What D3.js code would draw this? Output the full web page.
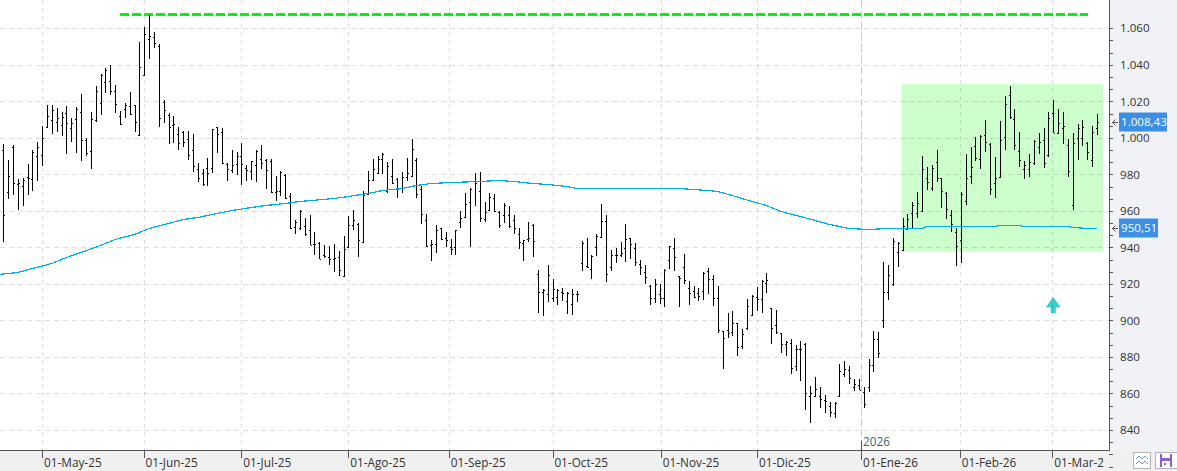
<!DOCTYPE html>
<html>
<head>
<meta charset="utf-8">
<script src="https://cdn.jsdelivr.net/npm/d3@7/dist/d3.min.js"></script>
<style>
  html, body { margin: 0; padding: 0; background: #fff; overflow: hidden; }
  svg { display: block; font-family: "Open Sans", "Noto Sans", sans-serif; }
</style>
</head>
<body>
<svg id="chart" width="1177" height="471"></svg>
<script>
// Daily OHLC bars, one entry per trading session
const opens = [
  993.2,970.2,995,974.5,973.5,978.6,977.3,989.9,990.4,1006.1,1009.6,1008.5,1007,1013.4,1005.6,1010.3,1014,998.6,992.6,1009.6,
  1019.1,1030.4,1031.1,1025.8,1012.2,1015.8,1017.3,1017.8,1001.7,1034.2,1054,1055.1,1050.3,1019.6,1012.5,1007,1001.9,1003,999.2,993.4,
  982.9,980.6,983.3,983.3,1005.8,1003,985.9,982.4,985.7,990.1,983.3,981.9,985,988.2,987.9,987.3,970.3,970.9,979.7,968.2,
  951,950.6,951.5,949.3,942,942.2,935.7,935,933.7,935,924.4,940.1,952.4,953,943.1,969.1,977.1,980.8,988.3,970.7,
  978.9,977.7,972.4,978.6,978.9,988.1,972,954.8,941.4,941.6,950.6,944.9,940,940,953.7,956.8,964.7,976.2,971.1,955.3,
  960.3,967.2,959.2,957.5,957.5,954.8,947.6,942.5,944.5,952.4,925.3,915.6,914.7,912.5,912.9,915.6,910.7,909,914.5,931.4,
  929.8,928.3,940.4,945.7,954.5,929.2,935.8,935.8,939.8,945,939.8,930.9,926.7,919,912.2,914.4,912.2,933.1,939.7,924.3,
  929.2,917.9,916.3,915.2,916.3,927,922.7,912.2,894.1,894.7,893.6,898.5,885.9,895.8,902.9,912.6,911.7,920.5,906.7,897.4,
  892.9,887.2,887.9,874.9,884.1,887,858.8,858.8,858.8,856.6,853,849.3,858.6,870.5,872.7,863.8,864.5,861,863.8,875.8,
  889.7,900.5,915.5,920.2,937.6,938.8,950,959.1,959,959.7,978,972.5,986.7,977.8,969.7,957.9,948.7,944.3,965.4,979.1,
  995.3,988.4,1001.6,996.6,975.2,978.3,1000.5,1023.5,1010.3,992.8,982.9,982.7,986.4,995,998.6,990.6,1013.6,1002.6,1005.2,996.1,
  963.2,999.9,999.7,997.2,987.7,1005.2
];
const highs = [
  996.6,987.9,996.1,977.5,978.2,985.7,993.4,997.5,1006.5,1018,1017.8,1016.4,1014,1017.4,1010.9,1016.9,1024,999.7,1014.2,1028.4,
  1035,1038.1,1039.9,1028.9,1014.7,1018.9,1025.1,1018,1052.5,1060.7,1067.3,1058,1051.4,1020.7,1013.6,1012,1005.9,1003.8,1003.8,1002.1,
  986.2,982.9,989,1004.9,1005.9,1005.4,986.2,993.4,992.3,997.2,985.1,987.3,993.4,996.1,988.4,988.4,979.1,981.9,980.2,969.8,
  955,960.3,955.9,957.5,948.7,942.7,941.1,940.5,941.6,937.8,946,957,960.3,953.1,970.7,981.7,988.3,989.9,991.6,986.6,
  988.3,977.8,981.1,988.8,999.3,988.8,973.5,958.1,943.8,952,950.9,948.7,944.4,949.8,959.7,969.6,972.4,980.6,981.1,964.7,
  969.6,969.4,959.7,964.1,962.5,957.5,950.9,943.8,953.7,952.6,927.9,917.3,930.6,922.9,917.4,917.8,915.8,917.4,916.2,943.7,
  945.1,935.8,947.3,963.8,957.9,938.6,939.8,942.9,953,945.1,942.6,933.3,930.5,919.2,922.7,920.1,928.1,940.8,945.3,924.3,
  936.5,921.7,919,917.9,926.7,928.7,925,919,894.1,904.2,905.3,898.7,895.4,911.9,914.1,918.4,922.3,926.1,906.9,905.8,
  893.2,888.8,889.7,886.4,888.6,887.5,863.9,868.9,863.4,859,855.2,855.2,876,877.7,874.9,867.8,867.8,863.4,878.7,894.1,
  893.6,931.9,930.3,945.1,942.9,956,958.2,964.6,970.3,990,984,985.1,993.3,978,970.1,960.4,950.9,970.1,991.1,995,
  1000.5,1001.6,1009.8,997.2,989.5,1009,1022.9,1028.4,1015.8,1003.2,987.3,991.1,998.8,1002.6,1005.4,1014.2,1020.7,1015.8,1014.2,999.4,
  1002.6,1007.6,1009.8,997.7,1006.5,1013.1
];
const lows = [
  943.2,966.7,968.7,960.5,962.7,968.7,970.9,976.4,984.8,1005.6,1002.1,1003.2,1001.2,991.2,997.7,991.9,987.3,990.1,982.9,1008.7,
  1012.5,1024.4,1023.5,1013.6,1007,1011.1,1012.5,1003.2,1001.6,1033.9,1043.2,1049.2,1005.9,1008.3,996.6,997.2,993.4,995,987.9,981.3,
  975.8,973.6,973.6,980.6,991.7,985.7,976.4,980.8,979.7,974.2,976.4,976.9,975.8,982.9,972,969.8,965.4,968.2,966.5,950.1,
  947.3,949.3,946,941.1,935.6,933.4,934.3,930.1,926.8,924.6,924.2,940,949.3,935,942.2,968.5,976.7,980.6,980.4,969.8,
  974.6,966.9,969.6,976.2,978.4,966.9,952.6,940,932.8,936.7,943.8,940,936.1,936.1,950.4,956.4,940,962.5,953.7,953.7,
  959.7,959.4,950.6,953.1,950.9,947.1,938.9,932.8,942.7,935,904.3,902.6,910.3,910.3,908.7,910.9,903.7,903.2,910.3,926.9,
  928.7,922.5,935.4,945,920.8,927.2,931.2,934.5,931.8,933.8,929.6,924.7,919.7,908.6,909.7,908.9,907.5,928.3,927.2,907.5,
  920.1,908.6,912.4,910.8,911.3,914.6,908,893.2,873.5,890.5,891.6,880.6,884.4,894.9,902.5,905.3,904.2,915.2,887.2,892.7,
  882.2,880.6,870.5,872.2,866.7,850.8,843.6,857.9,851.9,849.1,846.9,846.4,858.5,868.9,865,861.2,861.7,851.9,860.6,871.6,
  879.3,895.8,911.1,918.8,929.2,938.5,949.4,950.5,956,959.3,971.4,970.8,976,961.5,955.5,948.3,929.7,931.3,963.5,974.7,
  987.3,982.9,992.2,968.6,967,978,993.3,1010.3,993.3,984,977.4,978.3,985.1,991.1,983.5,989.5,1002.5,1002.1,996.6,978.5,
  960.4,987.8,995.5,987.8,984,1001.6
];
const closes = [
  957.6,978.9,975.3,975.3,977.1,978.2,992.5,995,999.9,1011.8,1015.3,1010.9,1011.4,1008,1008.1,1015.8,998.6,991.5,1010.3,1025.7,
  1034.6,1037.3,1025.8,1018.5,1007.8,1018,1013.3,1008.7,1038.6,1056.9,1055.8,1051.8,1010.9,1015.1,1005.9,1007.6,997.2,997.7,990.6,984.6,
  977.8,974.5,980.8,1004.7,1002.1,986.4,982.9,985.1,990.1,985.7,982.4,987.3,992.8,986.2,982.4,970.5,970.9,981.3,967.2,950.8,
  954.1,959.9,947.5,941.2,941.6,933.9,935.2,933.7,934.1,927.7,939.4,952.4,955.2,943.8,968.5,977.1,983.2,988.3,991,984.4,
  975.5,972.2,978.6,981,994.1,969.4,958.1,940.7,941.6,949.3,944.4,943.8,939.4,949.7,955.9,963.6,972,975.1,956.2,959.2,
  967.4,960.1,952,963,951.7,950.8,942.7,943.8,945.4,943.3,915.6,916.7,924.9,917.4,916.5,915.1,915.1,914.5,914.5,942.4,
  929.1,935.4,946.4,954.5,925.4,935.8,935.8,936.9,944.6,941.8,932.2,929.2,923.7,912.2,919.9,912.1,927.8,940.8,934.7,923.2,
  922.1,915.2,913,913.3,925.8,922.7,912.2,894.7,890.5,893,898.7,885.5,892.5,907.8,913.5,911.7,921.7,922.3,896,893.6,
  887,888.3,874.2,884.2,884.1,860.5,860.5,862.7,857.2,856.1,849.9,854.8,872.5,873.3,868.3,865.2,861.7,854.4,875.8,889.7,
  882.4,915.5,924.8,943.5,942.4,951.5,955.5,963.2,964.3,983.1,975.8,983.5,978,970.7,960.8,952.6,940.5,969.2,977.8,984,
  989.1,1001,997.7,971.8,978.2,998.8,1018.4,1011.4,996.1,987.8,985.3,986.6,998.3,997.9,986.2,1011.1,1002.6,1008.1,1006.5,981.8,
  997.2,1005.2,1005.9,992,1003.4,1008.43
];

// Moving average, sampled at the listed bar positions
const maBars = [
  -1,3,6,10,13,16,20,23,27,30,34,37,40,44,47,51,54,58,61,68,71,75,78,82,85,88,92,98,102,105,109,112,116,118,
  131,139,145,147,150,154,157,160,164,167,170,174,178,182,189,190,204,205,209,210,219,220,223,225
];
const maValues = [
  925.4,926.8,928.7,931.4,934.7,937.6,941.3,944.6,947.3,950.8,953.5,955.4,956.8,958.7,960.6,962,963.4,964.5,965.3,967.2,968,969.6,971.4,972.7,974.2,975.3,975.6,976.5,976.7,976.4,975.4,974.7,973.6,972.4,
  972.5,972.3,971.4,970.9,968.5,965.6,963.1,960.1,957.2,954.8,952.6,950.6,950.3,950.5,950.6,951.7,951.7,952.1,952.1,951.7,951.7,951,950.6,950.51
];

// Price axis and reference levels
const priceTicks = [840, 860, 880, 900, 920, 940, 960, 980, 1000, 1020, 1040, 1060];
const lastPrice = 1008.43;
const lastAverage = 950.51;
const resistanceLevel = 1067.7;
const resistanceBars = [24, 223.1];
const rangeBand = { bars: [184.8, 226.2], prices: [937.6, 1029.5] };
const signalArrow = { bar: 216, price: 908.5 };

// Calendar axis
const monthLabels = ["01-May-25", "01-Jun-25", "01-Jul-25", "01-Ago-25", "01-Sep-25", "01-Oct-25", "01-Nov-25", "01-Dic-25", "01-Ene-26", "01-Feb-26", "01-Mar-26"];
const monthBars = [8, 28.9, 49, 71, 91.7, 113, 135.3, 155.1, 176.47, 196.8, 215.84];
const yearLabel = "2026";
const yearBar = 176.47;

const W = 1177, H = 471, plotRight = 1109, plotBottom = 450, priceLabelSize = 11.6, dateLabelSize = 11.8;

const x = d3.scaleLinear().domain([0, opens.length - 1]).range([3.3, 1097]);
const y = d3.scaleLinear().domain([840, 1060]).range([430, 28.3]);
const px = v => Math.round(v) + 0.5;

const esLocale = d3.formatLocale({ decimal: ",", thousands: ".", grouping: [3], currency: ["", "€"] });
const fmtTick = esLocale.format(",.0f");
const fmtPrice = esLocale.format(",.2f");

const svg = d3.select("#chart");
const defs = svg.append("defs");
defs.append("clipPath").attr("id", "plot-clip").append("rect")
  .attr("width", plotRight).attr("height", plotBottom);
defs.append("clipPath").attr("id", "date-clip").append("rect")
  .attr("y", plotBottom).attr("width", 1103.5).attr("height", H - plotBottom);

// Panels
svg.append("rect").attr("width", W).attr("height", H).attr("fill", "#ffffff");
svg.append("rect").attr("x", plotRight).attr("width", W - plotRight).attr("height", plotBottom).attr("fill", "#f1f2f6");
svg.append("rect").attr("y", plotBottom).attr("width", W).attr("height", H - plotBottom).attr("fill", "#f0f0f0");

const plot = svg.append("g").attr("clip-path", "url(#plot-clip)");

// Highlighted range behind the grid
plot.append("rect")
  .attr("x", x(rangeBand.bars[0])).attr("width", x(rangeBand.bars[1]) - x(rangeBand.bars[0]))
  .attr("y", y(rangeBand.prices[1])).attr("height", y(rangeBand.prices[0]) - y(rangeBand.prices[1]))
  .attr("fill", "#ccffcc");

// Buy signal marker
const ax = x(signalArrow.bar), ay = y(signalArrow.price);
plot.append("path")
  .attr("transform", `translate(${ax},${ay})`)
  .attr("d", "M0,-8L7.5,2.5L2.5,2.5L2.5,8L-2.5,8L-2.5,2.5L-7.5,2.5Z")
  .attr("fill", "#33cfcf");

// Grid
const grid = plot.append("g").attr("shape-rendering", "crispEdges").attr("fill", "none");
grid.selectAll("line.h").data(priceTicks).join("line").attr("class", "h")
  .attr("x1", 0).attr("x2", plotRight).attr("y1", d => px(y(d))).attr("y2", d => px(y(d)))
  .attr("stroke", "rgba(0,0,0,0.13)").attr("stroke-dasharray", "5,4");
grid.selectAll("line.v").data(monthBars).join("line").attr("class", "v")
  .attr("x1", d => px(x(d))).attr("x2", d => px(x(d))).attr("y1", 0).attr("y2", plotBottom)
  .attr("stroke", d => d === yearBar ? "rgba(0,0,0,0.2)" : "rgba(0,0,0,0.13)")
  .attr("stroke-dasharray", d => d === yearBar ? "8,3" : "4,4");

// Resistance level
plot.append("line")
  .attr("x1", x(resistanceBars[0])).attr("x2", x(resistanceBars[1]))
  .attr("y1", px(y(resistanceLevel))).attr("y2", px(y(resistanceLevel)))
  .attr("stroke", "#00f414").attr("stroke-width", 3).attr("stroke-dasharray", "9,3")
  .attr("shape-rendering", "crispEdges");

// OHLC bars: open tick to the left of the stem, close tick to the right
const bars = plot.append("g").attr("stroke", "#000").attr("shape-rendering", "crispEdges");
const bar = bars.selectAll("g").data(opens.map((_, i) => i)).join("g");
bar.append("line")
  .attr("x1", i => px(x(i))).attr("x2", i => px(x(i)))
  .attr("y1", i => y(highs[i])).attr("y2", i => y(lows[i]));
bar.append("line")
  .attr("x1", i => px(x(i)) - 1.5).attr("x2", i => px(x(i)))
  .attr("y1", i => px(y(opens[i]))).attr("y2", i => px(y(opens[i])));
bar.append("line")
  .attr("x1", i => px(x(i))).attr("x2", i => px(x(i)) + 1.5)
  .attr("y1", i => px(y(closes[i]))).attr("y2", i => px(y(closes[i])));

// Moving average
plot.append("path")
  .attr("d", d3.line().x(d => x(d[0])).y(d => px(y(d[1])))(maBars.map((b, i) => [b, maValues[i]])))
  .attr("fill", "none").attr("stroke", "#00aeef").attr("stroke-width", 1.2)
  .attr("shape-rendering", "crispEdges");

// Price axis with three subdivisions per label step
const minorTicks = d3.range(0, 37).map(k => 820 + k * 20 / 3);
const axisY = svg.append("g").attr("transform", `translate(${plotRight},0)`)
  .attr("shape-rendering", "crispEdges")
  .call(d3.axisRight(y).tickValues(minorTicks).tickSize(4).tickFormat(""));
axisY.select(".domain").attr("stroke", "#555").attr("d", `M0.5,0V${plotBottom}`);
axisY.selectAll(".tick line").attr("stroke", "#555");

svg.append("g").selectAll("text").data(priceTicks).join("text")
  .attr("x", 1120).attr("y", d => y(d)).attr("dy", "0.36em")
  .attr("font-size", priceLabelSize).attr("fill", "#333").text(fmtTick);

// Current value tags
const tags = [
  { value: lastPrice, w: 48, label: fmtPrice(lastPrice) },
  { value: lastAverage, w: 39, label: fmtPrice(lastAverage) }
];
const tag = svg.append("g").selectAll("g").data(tags).join("g")
  .attr("transform", d => `translate(0,${Math.round(y(d.value))})`);
tag.append("path").attr("d", "M1112.5,0.5H1118M1112.5,0.5L1115.5,-2.5M1112.5,0.5L1115.5,3.5")
  .attr("fill", "none").attr("stroke", "#555");
tag.append("rect").attr("x", 1119).attr("y", -9.5).attr("width", d => d.w).attr("height", 19).attr("fill", "#3d8fe6");
tag.append("text").attr("x", 1121).attr("dy", "0.36em").attr("font-size", priceLabelSize).attr("fill", "#fff").text(d => d.label);

// Date axis
svg.append("line").attr("x1", 0).attr("x2", plotRight + 1).attr("y1", plotBottom + 0.5).attr("y2", plotBottom + 0.5)
  .attr("stroke", "#555").attr("shape-rendering", "crispEdges");
const axisX = svg.append("g").attr("clip-path", "url(#date-clip)");
axisX.selectAll("line").data(monthBars).join("line")
  .attr("x1", d => px(x(d))).attr("x2", d => px(x(d)))
  .attr("y1", plotBottom).attr("y2", plotBottom + 8)
  .attr("stroke", "#555").attr("shape-rendering", "crispEdges");
axisX.selectAll("text").data(monthBars).join("text")
  .attr("x", d => x(d) + 1.8).attr("y", plotBottom + 17)
  .attr("font-size", dateLabelSize).attr("fill", "#333")
  .text((d, i) => monthLabels[i]);

// Year change marker
svg.append("line").attr("x1", px(x(yearBar))).attr("x2", px(x(yearBar))).attr("y1", 441).attr("y2", 460)
  .attr("stroke", "#555").attr("shape-rendering", "crispEdges");
svg.append("text").attr("x", x(yearBar) + 1.8).attr("y", 446)
  .attr("font-size", dateLabelSize).attr("fill", "#3f5f78").text(yearLabel);

// Toolbar buttons
const tool = svg.append("g");
tool.append("rect").attr("x", 1133.5).attr("y", 452.5).attr("width", 17).attr("height", 16)
  .attr("fill", "#fff").attr("stroke", "#b4b4b4");
tool.append("path").attr("d", "M1136,459L1139,456L1142,459L1145,456L1148,459").attr("fill", "none").attr("stroke", "#6fa8dc");
tool.append("path").attr("d", "M1136,464L1139,461L1142,464L1145,461L1148,464").attr("fill", "none").attr("stroke", "#8a8a8a");
tool.append("rect").attr("x", 1155.5).attr("y", 452.5).attr("width", 22).attr("height", 16)
  .attr("fill", "#fff").attr("stroke", "#b4b4b4");
tool.append("path").attr("d", "M1160,454H1172V467H1160Z").attr("fill", "#8b62c9");
tool.append("rect").attr("x", 1162).attr("y", 454).attr("width", 8).attr("height", 4).attr("fill", "#fff");
tool.append("rect").attr("x", 1162).attr("y", 461).attr("width", 8).attr("height", 6).attr("fill", "#fff");
tool.append("rect").attr("x", 1164).attr("y", 463).attr("width", 2).attr("height", 2).attr("fill", "#8b62c9");
</script>
</body>
</html>
